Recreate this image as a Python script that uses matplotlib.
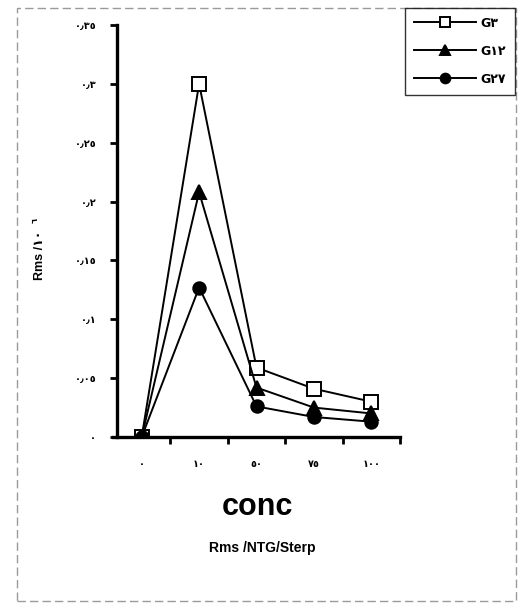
import matplotlib
matplotlib.use("Agg")
import matplotlib.pyplot as plt
from matplotlib.patches import Rectangle

# concentration categories (Arabic-Indic labels)
conc_labels = ["٠", "١٠", "٥٠", "٧٥", "١٠٠"]
series_names = ["G٣", "G١٢", "G٢٧"]
g3 = [0.0, 0.300, 0.059, 0.041, 0.030]
g12 = [0.0, 0.208, 0.042, 0.025, 0.020]
g27 = [0.0, 0.127, 0.026, 0.017, 0.013]
y_ticks = [0.0, 0.05, 0.10, 0.15, 0.20, 0.25, 0.30, 0.35]
y_tick_labels = ["٠", "٠٫٠٥", "٠٫١", "٠٫١٥", "٠٫٢", "٠٫٢٥", "٠٫٣", "٠٫٣٥"]

W, H = 522, 605
fig = plt.figure(figsize=(W / 100, H / 100), dpi=100)
fig.patch.set_facecolor("white")

ax_l, ax_r, ax_t, ax_b = 113, 400, 25, 437
ax = fig.add_axes([ax_l / W, 1 - ax_b / H, (ax_r - ax_l) / W, (ax_b - ax_t) / H])

xs = list(range(len(conc_labels)))
styles = [
    dict(marker="s", markerfacecolor="white", markersize=10),
    dict(marker="^", markerfacecolor="black", markersize=10),
    dict(marker="o", markerfacecolor="black", markersize=9),
]
handles = []
for vals, name, st in zip([g3, g12, g27], series_names, styles):
    ln, = ax.plot(xs, vals, color="black", linewidth=1.4,
                  markeredgecolor="black", markeredgewidth=1.4,
                  label=name, **st)
    handles.append(ln)

ax.set_xlim(-0.5, len(conc_labels) - 0.5)
ax.set_ylim(0, 0.35)

for s in ["top", "right"]:
    ax.spines[s].set_visible(False)
ax.spines["left"].set_position(("data", -0.43))
ax.spines["left"].set_linewidth(2.4)
ax.spines["bottom"].set_linewidth(2.4)

ax.set_yticks(y_ticks)
ax.set_yticklabels(y_tick_labels, fontsize=7, fontweight="bold",
                   family=["DejaVu Sans"])
ax.tick_params(axis="y", direction="out", length=5, width=2, pad=10)

# tick marks sit between categories, labels at the category centres
ax.set_xticks([i + 0.5 for i in xs])
ax.set_xticklabels([])
ax.set_xticks(xs, minor=True)
ax.set_xticklabels(conc_labels, minor=True, fontsize=7, fontweight="bold",
                   family=["DejaVu Sans"])
ax.tick_params(axis="x", which="major", direction="out", length=5, width=2)
ax.tick_params(axis="x", which="minor", length=0, pad=16)

fig.text(257 / W, 1 - 507 / H, "conc", ha="center", va="center",
         fontsize=22, fontweight="bold", family=["Liberation Sans"])
fig.text(262 / W, 1 - 548 / H, "Rms /NTG/Sterp", ha="center", va="center",
         fontsize=10, fontweight="bold", family=["Liberation Sans"])
fig.text(40 / W, 1 - 255 / H, "Rms /١٠", ha="center", va="center",
         rotation=90, fontsize=9, fontweight="bold",
         family=["Liberation Sans", "DejaVu Sans"])
fig.text(35 / W, 1 - 220 / H, "٦", ha="center", va="center",
         rotation=90, fontsize=6, fontweight="bold", family=["DejaVu Sans"])

leg = fig.legend(handles=handles, loc="upper left",
                 bbox_to_anchor=(405 / W, 1 - 95 / H, 110 / W, 87 / H),
                 mode="expand", frameon=True, fancybox=False,
                 handlelength=5.0, labelspacing=1.2, borderpad=0.7,
                 borderaxespad=0.0,
                 handletextpad=0.3, prop={"size": 9, "weight": "bold",
                                           "family": ["DejaVu Sans"]})
leg.get_frame().set_edgecolor("black")
leg.get_frame().set_linewidth(1.0)
for h in leg.legend_handles:
    h.set_markersize(7)

# page outline around the figure
fig.patches.append(Rectangle((17 / W, 1 - 601 / H), 499 / W, 593 / H,
                             transform=fig.transFigure, fill=False,
                             edgecolor="#9a9a9a", linewidth=1.0,
                             linestyle=(0, (6, 3))))

fig.savefig("out.png", dpi=100)
